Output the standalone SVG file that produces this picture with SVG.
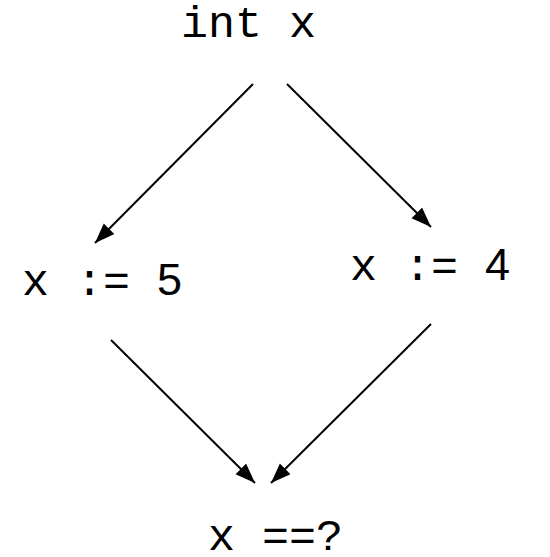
<svg xmlns="http://www.w3.org/2000/svg" width="550" height="557" viewBox="0 0 550 557">
<style>
.lbl{font-family:"Liberation Mono","Courier New",monospace;font-size:45px;fill:#000}
.num{font-family:"Liberation Sans",Arial,sans-serif}
.edge{stroke:#000;stroke-width:2;fill:none;marker-end:url(#ah)}
</style>
<defs>
<marker id="ah" markerUnits="userSpaceOnUse" markerWidth="22" markerHeight="16" refX="20" refY="7.5" orient="auto">
<path d="M0,0 L20,7.5 L0,15 z" fill="#000"/>
</marker>
</defs>
<rect width="550" height="557" fill="#fff"/>
<g id="n-decl"><text class="lbl" x="181" y="37">int x</text></g>
<g id="n-assign5"><text class="lbl" x="22" y="295">x := <tspan class="num">5</tspan></text></g>
<g id="n-assign4"><text class="lbl" x="350" y="280">x := <tspan class="num">4</tspan></text></g>
<g id="n-check"><text class="lbl" x="208" y="550">x ==?</text></g>
<g id="connectors">
<line class="edge" x1="253" y1="84" x2="95" y2="243"/>
<line class="edge" x1="287" y1="84" x2="431" y2="227"/>
<line class="edge" x1="111" y1="340" x2="255" y2="483"/>
<line class="edge" x1="431" y1="324" x2="271" y2="483"/>
</g>
</svg>
